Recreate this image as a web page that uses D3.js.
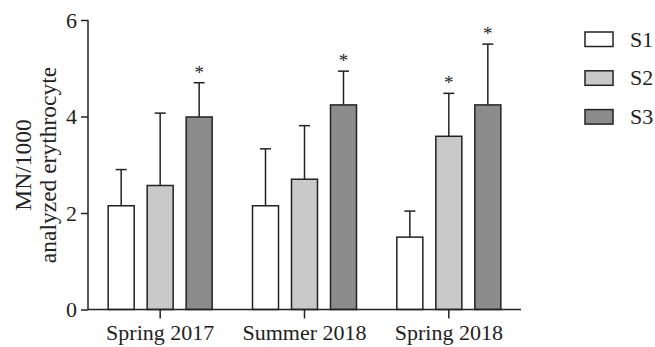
<!DOCTYPE html>
<html><head><meta charset="utf-8">
<script src="https://cdn.jsdelivr.net/npm/d3@7"></script>
<style>body{margin:0;background:#fff}svg{display:block}text{font-family:"Liberation Serif","Times New Roman",serif;fill:#222}</style>
</head><body>
<svg id="c" width="655" height="347"></svg>
<script>
const categories = ["Spring 2017", "Summer 2018", "Spring 2018"];
const seriesNames = ["S1", "S2", "S3"];
const S1 = [2.15, 2.15, 1.50];
const S2 = [2.57, 2.70, 3.59];
const S3 = [3.99, 4.24, 4.24];
const S1err = [0.75, 1.18, 0.54];
const S2err = [1.50, 1.11, 0.89];
const S3err = [0.71, 0.70, 1.26];
const S1sig = [false, false, false];
const S2sig = [false, false, true];
const S3sig = [true, true, true];
const yTicks = [0, 2, 4, 6];
const colors = ["#ffffff", "#c9c9c9", "#8c8c8c"];

const values = [S1, S2, S3], errs = [S1err, S2err, S3err], sigs = [S1sig, S2sig, S3sig];
const svg = d3.select("#c");
const m = {l: 88, r: 134, t: 20, b: 37.5};
const W = 655, H = 347;
const x0 = d3.scaleBand().domain(categories).range([m.l, W - m.r]).padding(0);
const x1 = d3.scaleBand().domain(seriesNames).range([0, 104]).paddingInner(0.333).paddingOuter(0);
const y = d3.scaleLinear().domain([0, 6]).range([H - m.b, m.t]);

const data = [];
categories.forEach((c, i) => seriesNames.forEach((s, j) => data.push({c, s, j, v: values[j][i], e: errs[j][i], sig: sigs[j][i]})));
const bx = d => x0(d.c) + x0.bandwidth()/2 - 52 + x1(d.s);

const g = svg.append("g");
// error bars
g.selectAll(".err").data(data).join("g").each(function(d){
  const cx = bx(d) + x1.bandwidth()/2;
  const sel = d3.select(this);
  sel.append("line").attr("x1", cx).attr("x2", cx).attr("y1", y(d.v)).attr("y2", y(d.v + d.e)).attr("stroke", "#222").attr("stroke-width", 1.5);
  sel.append("line").attr("x1", cx - 5.5).attr("x2", cx + 5.5).attr("y1", y(d.v + d.e)).attr("y2", y(d.v + d.e)).attr("stroke", "#222").attr("stroke-width", 1.5);
  if (d.sig) sel.append("text").attr("x", cx).attr("y", y(d.v + d.e) - 4).attr("text-anchor", "middle").attr("font-size", 19).text("*");
});
g.selectAll("rect.bar").data(data).join("rect").attr("class", "bar")
  .attr("x", bx).attr("width", x1.bandwidth())
  .attr("y", d => y(d.v)).attr("height", d => y(0) - y(d.v))
  .attr("fill", d => colors[d.j]).attr("stroke", "#222").attr("stroke-width", 1.5);

// axes
const ya = svg.append("g").attr("transform", `translate(${m.l},0)`)
  .call(d3.axisLeft(y).tickValues(yTicks).tickFormat(d3.format("d")).tickSize(7).tickPadding(4));
const xa = svg.append("g").attr("transform", `translate(0,${y(0)})`)
  .call(d3.axisBottom(x0).tickSize(9).tickPadding(6));
[ya, xa].forEach(a => {
  a.select(".domain").attr("stroke", "#222").attr("stroke-width", 1.5);
  a.selectAll(".tick line").attr("stroke", "#222").attr("stroke-width", 1.5);
  a.selectAll("text").attr("font-family", "Liberation Serif, serif").attr("font-size", 22).attr("fill", "#222");
});
xa.select(".domain").attr("d", `M${m.l},0H${W - m.r}`);
ya.select(".domain").attr("d", `M0,${y(6)}V${y(0)}`);

// y label
const yl = svg.append("text").attr("transform", `translate(0,165) rotate(-90)`).attr("text-anchor", "middle").attr("font-size", 23.5);
yl.append("tspan").attr("x", 0).attr("y", 31).text("MN/1000");
yl.append("tspan").attr("x", 0).attr("y", 55.5).text("analyzed erythrocyte");

// legend
const lg = svg.append("g").selectAll("g").data(seriesNames).join("g")
  .attr("transform", (d, i) => `translate(585,${32 + i * 38.8})`);
lg.append("rect").attr("width", 28).attr("height", 14.5).attr("fill", (d, i) => colors[i]).attr("stroke", "#222").attr("stroke-width", 1.5);
lg.append("text").attr("x", 45).attr("y", 14.5).attr("font-size", 22).text(d => d);
</script>
</body></html>
